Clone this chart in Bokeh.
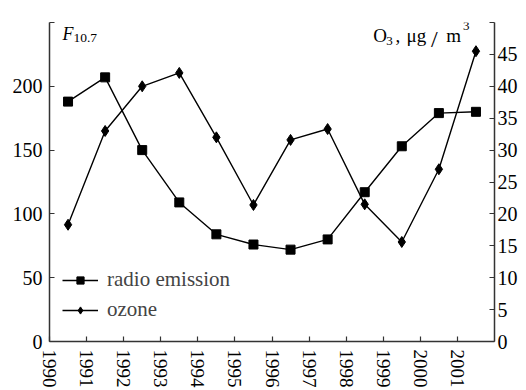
from bokeh.plotting import figure
from bokeh.models import Range1d, LinearAxis, FixedTicker, Legend, LegendItem, Label
from bokeh.embed import file_html
from bokeh.resources import INLINE

years = [1990.5, 1991.5, 1992.5, 1993.5, 1994.5, 1995.5, 1996.5, 1997.5, 1998.5, 1999.5, 2000.5, 2001.5]
radio = [188, 207, 150, 109, 84, 76, 72, 80, 117, 153, 179, 180]
ozone = [18.3, 33.0, 40.0, 42.1, 32.0, 21.4, 31.6, 33.3, 21.5, 15.6, 27.0, 45.5]
x_ticks = list(range(1990, 2002))
left_ticks = [0, 50, 100, 150, 200, 250]
right_ticks = [0, 5, 10, 15, 20, 25, 30, 35, 40, 45, 50]

FONT = "Liberation Serif"
AX = "#333333"

p = figure(width=526, height=390, output_backend="svg", toolbar_location=None,
           x_range=Range1d(1990, 2002), y_range=Range1d(0, 250),
           min_border_left=49, min_border_right=32, min_border_top=22, min_border_bottom=48)
p.extra_y_ranges = {"o3": Range1d(0, 50)}
p.outline_line_color = None
p.grid.visible = False
p.background_fill_color = "white"
p.border_fill_color = "white"

def style(ax, size, standoff):
    ax.axis_line_color = AX
    ax.axis_line_width = 1.5
    ax.major_tick_line_color = AX
    ax.major_tick_line_width = 1.2
    ax.major_tick_in = 5
    ax.major_tick_out = 0
    ax.minor_tick_line_color = None
    ax.major_label_text_font = FONT
    ax.major_label_text_font_size = size
    ax.major_label_text_color = "black"
    ax.major_label_standoff = standoff

xa = p.xaxis[0]
xa.ticker = FixedTicker(ticks=x_ticks)
xa.major_label_orientation = "vertical"
style(xa, "19px", 8)

ya = p.yaxis[0]
ya.ticker = FixedTicker(ticks=left_ticks)
ya.major_label_overrides = {250: ""}
style(ya, "20px", 7)

ra = LinearAxis(y_range_name="o3", ticker=FixedTicker(ticks=right_ticks))
ra.major_label_overrides = {50: ""}
style(ra, "20px", 3)
p.add_layout(ra, "right")

l1 = p.line(years, radio, line_color="black", line_width=1.4)
s1 = p.scatter(years, radio, marker="square", size=9, fill_color="black", line_color="black")
l2 = p.line(years, ozone, y_range_name="o3", line_color="black", line_width=1.4)
s2 = p.scatter(years, ozone, y_range_name="o3", marker="diamond", size=11, fill_color="black", line_color="black")

legend = Legend(items=[LegendItem(label="radio emission", renderers=[l1, s1]),
                       LegendItem(label="ozone", renderers=[l2, s2])],
                location=(13, 19), orientation="vertical",
                label_text_font=FONT, label_text_font_size="21px",
                glyph_width=36, glyph_height=18, label_standoff=9, spacing=5,
                padding=0, margin=0, background_fill_alpha=0, border_line_color=None)
p.add_layout(legend)

common = dict(text_font=FONT, text_color="black", text_baseline="alphabetic")
def lab(x, off, text, size, align="left", **kw):
    p.add_layout(Label(x=x, y=250, y_offset=off, text=text, text_font_size=size,
                       text_align=align, **common, **kw))

lab(1990.351, -11, "F", "18px", text_font_style="italic")
lab(1990.647, -15, "10.7", "13.5px")
lab(1998.729, -13, "O", "19px")
lab(1999.080, -18.5, "3", "13px")
lab(1999.330, -13, ",", "19px")
lab(1999.627, -13, "\u03bcg", "19px")
lab(2000.38, -16, "/", "24px", align="center")
lab(2000.90, -13, "m", "19px", align="center")
lab(2001.15, -3, "3", "13px")

open("out.html", "w").write(file_html(p, INLINE))
